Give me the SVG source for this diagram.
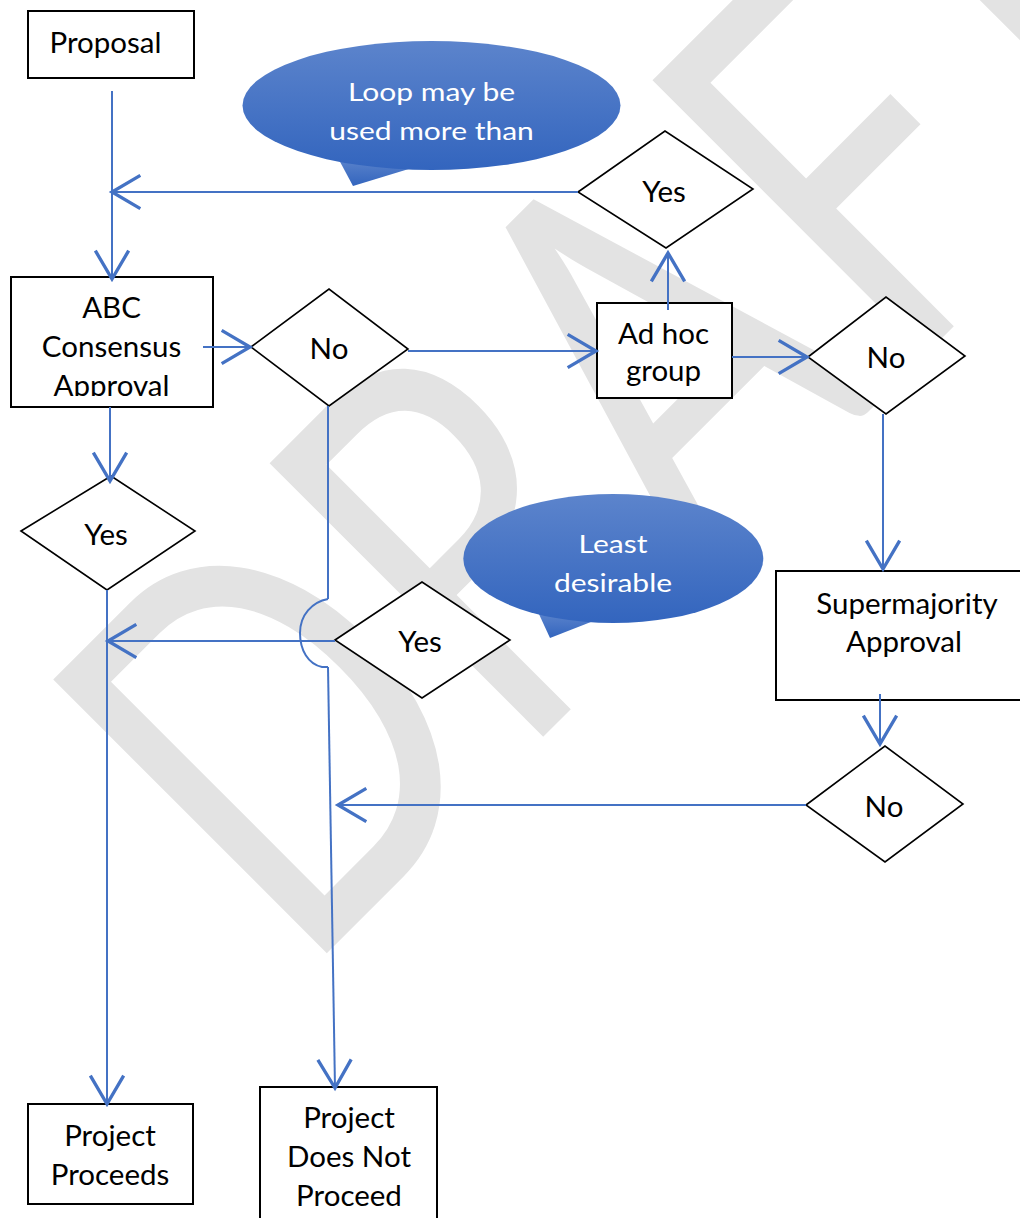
<svg xmlns="http://www.w3.org/2000/svg" width="1020" height="1218" viewBox="0 0 1020 1218">
<style>
.box{fill:#fff;stroke:#000;stroke-width:2}
.dia{fill:#fff;stroke:#000;stroke-width:1.6}
.t{font-family:Lato,"Liberation Sans",sans-serif;font-size:29.5px;fill:#000;text-anchor:middle}
.ct{font-family:Lato,"Liberation Sans",sans-serif;font-size:30px;fill:#fff;text-anchor:middle}
.con{fill:none;stroke:#4472C4;stroke-width:2}
.wm{font-family:Lato,"Liberation Sans",sans-serif;font-size:540px;fill:#e3e3e3}
</style>
<defs>
<marker id="arr" markerUnits="userSpaceOnUse" markerWidth="40" markerHeight="40" viewBox="-20 -12 24 24" refX="0" refY="0" orient="auto">
<path d="M-17,-10 L0,0 L-17,10" fill="none" stroke="#4472C4" stroke-width="2"/>
</marker>
<linearGradient id="cg" x1="0" y1="0" x2="0" y2="1">
<stop offset="0" stop-color="#5c84cc"/>
<stop offset="1" stop-color="#3365be"/>
</linearGradient>
<clipPath id="clipABC"><rect x="11" y="277" width="202" height="119"/></clipPath>
<clipPath id="clipAd"><rect x="597" y="303" width="135" height="83.5"/></clipPath>
</defs>
<rect width="1020" height="1218" fill="#fff"/>
<g id="watermark" transform="translate(640,640) rotate(-45) scale(0.75,1)">
<text class="wm" x="-640 -232 106 490 790" y="0">DRAFT</text>
</g>
<g id="proposal">
<rect class="box" x="28" y="11" width="166" height="67"/>
<text class="t" x="105.5" y="53">Proposal</text>
</g>
<g id="callout-loop">
<path d="M338,158 L353,186 L412,168 Z" fill="url(#cg)"/>
<ellipse cx="431.5" cy="105.5" rx="189" ry="64.5" fill="url(#cg)"/>
<text class="ct" transform="translate(431.5,101) scale(1,0.86)">Loop may be</text>
<text class="ct" transform="translate(431.5,140) scale(1,0.86)">used more than</text>
</g>
<g id="abc">
<rect class="box" x="11" y="277" width="202" height="130"/>
<g clip-path="url(#clipABC)">
<text class="t" x="111.5" y="318">ABC</text>
<text class="t" x="111.5" y="357">Consensus</text>
<text class="t" x="111.5" y="396">Approval</text>
</g>
</g>
<g id="yes-top">
<polygon class="dia" points="578,192 665,131 753,189 666,248"/>
<text class="t" x="664" y="202">Yes</text>
</g>
<g id="no-1">
<polygon class="dia" points="251,347 329,289 408,349 329,406"/>
<text class="t" x="329" y="359">No</text>
</g>
<g id="adhoc">
<rect class="box" x="597" y="303" width="135" height="95"/>
<g clip-path="url(#clipAd)">
<text class="t" x="663.5" y="344">Ad hoc</text>
<text class="t" x="663.5" y="381">group</text>
</g>
</g>
<g id="no-2">
<polygon class="dia" points="808,357 886,297 965,356 886,414"/>
<text class="t" x="886" y="368">No</text>
</g>
<g id="yes-left">
<polygon class="dia" points="21,531 111,476 195,531 107,590"/>
<text class="t" x="106" y="545">Yes</text>
</g>
<g id="callout-least">
<path d="M538,612 L550,638 L596,620 Z" fill="url(#cg)"/>
<ellipse cx="613.3" cy="558.5" rx="150" ry="64.5" fill="url(#cg)"/>
<text class="ct" transform="translate(613,553) scale(1,0.86)">Least</text>
<text class="ct" transform="translate(613,592) scale(1,0.86)">desirable</text>
</g>
<g id="yes-mid">
<polygon class="dia" points="335,640 422,582 510,640 422,698"/>
<text class="t" x="420" y="652">Yes</text>
</g>
<g id="supermajority">
<rect class="box" x="776" y="571" width="264" height="129"/>
<text class="t" x="907" y="614">Supermajority</text>
<text class="t" x="904" y="652">Approval</text>
</g>
<g id="no-3">
<polygon class="dia" points="806,805 885,746 963,804 885,862"/>
<text class="t" x="884" y="817">No</text>
</g>
<g id="proceeds">
<rect class="box" x="28" y="1104" width="165" height="100"/>
<text class="t" x="110" y="1146">Project</text>
<text class="t" x="110" y="1185">Proceeds</text>
</g>
<g id="not-proceed">
<rect class="box" x="260" y="1087" width="177" height="140"/>
<text class="t" x="349" y="1128">Project</text>
<text class="t" x="349" y="1167">Does Not</text>
<text class="t" x="349" y="1206">Proceed</text>
</g>
<g id="connectors">
<path class="con" d="M112,91 V279" marker-end="url(#arr)"/>
<path class="con" d="M578,192 H112" marker-end="url(#arr)"/>
<path class="con" d="M203,347 H250" marker-end="url(#arr)"/>
<path class="con" d="M408,351 H596" marker-end="url(#arr)"/>
<path class="con" d="M668,310 V253" marker-end="url(#arr)"/>
<path class="con" d="M732,357 H807" marker-end="url(#arr)"/>
<path class="con" d="M883,414 V569" marker-end="url(#arr)"/>
<path class="con" d="M880,694 V744" marker-end="url(#arr)"/>
<path class="con" d="M806,805 H338" marker-end="url(#arr)"/>
<path class="con" d="M110,407 V481" marker-end="url(#arr)"/>
<path class="con" d="M107,590 V1104" marker-end="url(#arr)"/>
<path class="con" d="M335,641 H108" marker-end="url(#arr)"/>
<path class="con" d="M328,406 V599"/>
<path class="con" d="M328,599 C312,602 300,615 300,633 C300,650 308,664 322,667 L328,667" stroke-width="4"/>
<path class="con" d="M328,667 L335,1088" marker-end="url(#arr)"/>
</g>
</svg>
